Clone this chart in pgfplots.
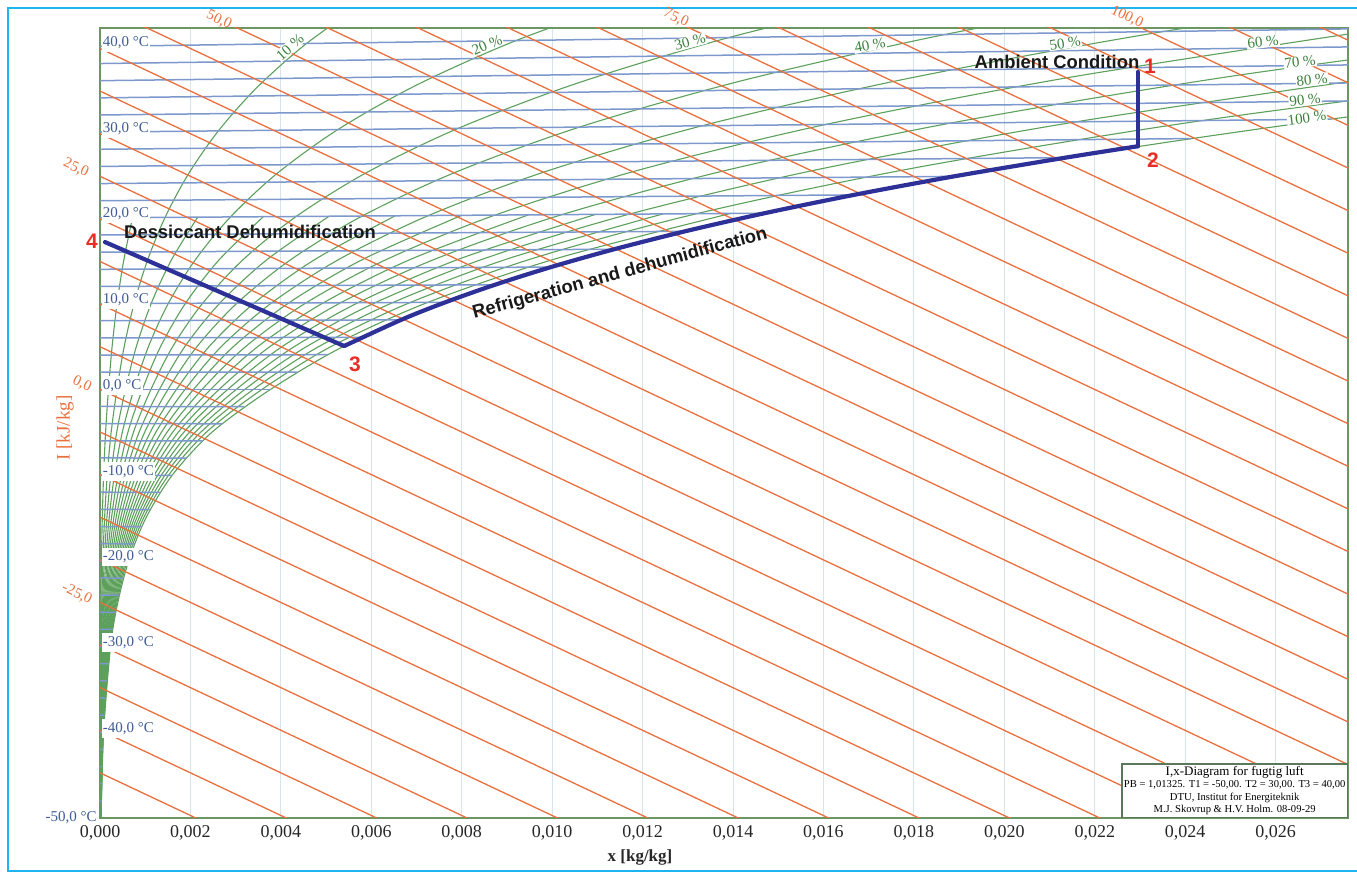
\documentclass[border=0pt]{standalone}
\usepackage{fontspec}
\setmainfont{Liberation Serif}
\setsansfont{Liberation Sans}
\usepackage{pgfplots}
\pgfplotsset{compat=1.18}

\definecolor{enthC}{RGB}{233,112,62}
\definecolor{isoTC}{RGB}{125,152,205}
\definecolor{isoTL}{RGB}{62,92,150}
\definecolor{rhC}{RGB}{92,160,92}
\definecolor{rhL}{RGB}{60,128,60}
\definecolor{gridC}{RGB}{214,228,238}
\definecolor{axisC}{RGB}{110,150,100}
\definecolor{pathC}{RGB}{45,48,150}
\definecolor{ptC}{RGB}{232,45,38}
\definecolor{frameC}{RGB}{30,180,240}
\definecolor{boxC}{RGB}{90,120,90}

\pgfplotsset{
  isoT/.style={no marks, draw=isoTC, line width=0.75pt},
  isoH/.style={no marks, draw=enthC, line width=0.65pt},
  rh/.style={no marks, draw=rhC, line width=0.55pt, smooth},
}
\tikzset{
  tlab/.style={anchor=base west, fill=white, inner xsep=0.6pt, inner ysep=1.6pt, text=isoTL, font=\fontsize{7.5}{8}\selectfont},
  rhlab/.style={fill=white, inner sep=0.4pt, text=rhL, font=\fontsize{7.5}{8}\selectfont},
}

\begin{document}
\begin{tikzpicture}
\path[use as bounding box] (0,0) rectangle (678.5pt,438.5pt);
\begin{axis}[
  at={(50pt,29.5pt)}, anchor=south west,
  scale only axis, width=624pt, height=395pt,
  xmin=0, xmax=0.0276, ymin=-50.3, ymax=42.4,
  axis line style={draw=axisC, line width=0.6pt},
  xtick={0,0.002,0.004,0.006,0.008,0.010,0.012,0.014,0.016,0.018,0.020,0.022,0.024,0.026},
  xticklabels={{0,000},{0,002},{0,004},{0,006},{0,008},{0,010},{0,012},{0,014},{0,016},{0,018},{0,020},{0,022},{0,024},{0,026}},
  scaled x ticks=false,
  xticklabel style={font=\fontsize{9}{10}\selectfont, text=black!85},
  ytick=\empty,
  major tick length=0pt,
  xmajorgrids, grid style={draw=gridC, line width=0.5pt},
  clip mode=individual,
]

% relative humidity curves: 10 % steps over the whole chart,
% intermediate 5 % steps up to 20 degC
\addplot[rh] coordinates {(1.21e-6,-50.30) (3.94e-6,-40.24) (1.167e-5,-30.18) (1.943e-5,-25.15) (3.169e-5,-20.12) (5.074e-5,-15.09) (7.978e-5,-10.06) (1.2335e-4,-5.03) (1.8766e-4,0) (2.6792e-4,5.033) (3.7720e-4,10.067) (5.2398e-4,15.105) (7.1881e-4,20.147)};
\addplot[rh] coordinates {(2.42e-6,-50.30) (7.88e-6,-40.24) (2.333e-5,-30.18) (3.885e-5,-25.15) (6.339e-5,-20.12) (1.0147e-4,-15.09) (1.5958e-4,-10.06) (2.4675e-4,-5.03) (3.7542e-4,0) (5.3606e-4,5.035) (7.5486e-4,10.074) (1.04884e-3,15.119) (1.43928e-3,20.174) (1.95188e-3,25.241) (2.61788e-3,30.326) (3.47401e-3,35.436) (4.56675e-3,40.580) (5.94636e-3,45.768)};
\addplot[rh] coordinates {(3.63e-6,-50.30) (1.182e-5,-40.24) (3.500e-5,-30.18) (5.828e-5,-25.15) (9.508e-5,-20.12) (1.5221e-4,-15.09) (2.3941e-4,-10.06) (3.7020e-4,-5.03) (5.6331e-4,0) (8.0444e-4,5.038) (1.13298e-3,10.081) (1.57459e-3,15.134) (2.16142e-3,20.200)};
\addplot[rh] coordinates {(4.84e-6,-50.30) (1.576e-5,-40.24) (4.667e-5,-30.18) (7.770e-5,-25.15) (1.2678e-4,-20.12) (2.0294e-4,-15.09) (3.1925e-4,-10.06) (4.9369e-4,-5.03) (7.5131e-4,0) (1.07305e-3,5.040) (1.51156e-3,10.088) (2.10123e-3,15.149) (2.88523e-3,20.227) (3.91604e-3,25.332) (5.25789e-3,30.473) (6.98705e-3,35.665) (9.20104e-3,40.925) (1.200750e-2,46.275)};
\addplot[rh] coordinates {(6.05e-6,-50.30) (1.971e-5,-40.24) (5.833e-5,-30.18) (9.713e-5,-25.15) (1.5847e-4,-20.12) (2.5368e-4,-15.09) (3.9912e-4,-10.06) (6.1724e-4,-5.03) (9.3941e-4,0) (1.34190e-3,5.043) (1.89060e-3,10.095) (2.62875e-3,15.163) (3.61073e-3,20.254)};
\addplot[rh] coordinates {(7.26e-6,-50.30) (2.365e-5,-40.24) (7.000e-5,-30.18) (1.1655e-4,-25.15) (1.9016e-4,-20.12) (3.0442e-4,-15.09) (4.7900e-4,-10.06) (7.4084e-4,-5.03) (1.12763e-3,0) (1.61097e-3,5.045) (2.27010e-3,10.102) (3.15717e-3,15.178) (4.33791e-3,20.281) (5.89261e-3,25.424) (7.92031e-3,30.622) (1.053978e-2,35.896) (1.390442e-2,41.274) (1.818682e-2,46.792)};
\addplot[rh] coordinates {(8.47e-6,-50.30) (2.759e-5,-40.24) (8.167e-5,-30.18) (1.3598e-4,-25.15) (2.2186e-4,-20.12) (3.5515e-4,-15.09) (5.5890e-4,-10.06) (8.6448e-4,-5.03) (1.31597e-3,0) (1.88028e-3,5.048) (2.65007e-3,10.109) (3.68649e-3,15.193) (5.06678e-3,20.308)};
\addplot[rh] coordinates {(9.67e-6,-50.30) (3.153e-5,-40.24) (9.333e-5,-30.18) (1.5540e-4,-25.15) (2.5355e-4,-20.12) (4.0589e-4,-15.09) (6.3884e-4,-10.06) (9.8818e-4,-5.03) (1.50441e-3,0) (2.14982e-3,5.050) (3.03049e-3,10.116) (4.21670e-3,15.208) (5.79735e-3,20.336) (7.88170e-3,25.516) (1.060543e-2,30.772) (1.413286e-2,36.130) (1.867840e-2,41.630) (2.448773e-2,47.320)};
\addplot[rh] coordinates {(1.088e-5,-50.30) (3.547e-5,-40.24) (1.0500e-4,-30.18) (1.7483e-4,-25.15) (2.8525e-4,-20.12) (4.5662e-4,-15.09) (7.1878e-4,-10.06) (1.11191e-3,-5.03) (1.69297e-3,0) (2.41959e-3,5.053) (3.41138e-3,10.123) (4.74781e-3,15.222) (6.52963e-3,20.363)};
\addplot[rh] coordinates {(1.209e-5,-50.30) (3.941e-5,-40.24) (1.1667e-4,-30.18) (1.9426e-4,-25.15) (3.1694e-4,-20.12) (5.0736e-4,-15.09) (7.9874e-4,-10.06) (1.23570e-3,-5.03) (1.88166e-3,0) (2.68959e-3,5.055) (3.79274e-3,10.131) (5.27982e-3,15.237) (7.26361e-3,20.390) (9.88343e-3,25.610) (1.331354e-2,30.923) (1.776699e-2,36.367) (2.352461e-2,41.990) (3.091390e-2,47.857)};
\addplot[rh] coordinates {(1.330e-5,-50.30) (4.335e-5,-40.24) (1.2833e-4,-30.18) (2.1368e-4,-25.15) (3.4863e-4,-20.12) (5.5810e-4,-15.09) (8.7873e-4,-10.06) (1.35954e-3,-5.03) (2.07044e-3,0) (2.95983e-3,5.058) (4.17456e-3,10.138) (5.81274e-3,15.252) (7.99931e-3,20.418)};
\addplot[rh] coordinates {(1.451e-5,-50.30) (4.729e-5,-40.24) (1.4000e-4,-30.18) (2.3311e-4,-25.15) (3.8033e-4,-20.12) (6.0883e-4,-15.09) (9.5874e-4,-10.06) (1.48343e-3,-5.03) (2.25934e-3,0) (3.23031e-3,5.060) (4.55684e-3,10.145) (6.34656e-3,15.267) (8.73674e-3,20.445) (1.189794e-2,25.703) (1.604492e-2,31.075) (2.144288e-2,36.606) (2.844468e-2,42.356)};
\addplot[rh] coordinates {(1.572e-5,-50.30) (5.123e-5,-40.24) (1.5166e-4,-30.18) (2.5253e-4,-25.15) (4.1202e-4,-20.12) (6.5957e-4,-15.09) (1.03877e-3,-10.06) (1.60737e-3,-5.03) (2.44835e-3,0) (3.50102e-3,5.063) (4.93959e-3,10.152) (6.88129e-3,15.282) (9.47590e-3,20.473)};
\addplot[rh] coordinates {(1.693e-5,-50.30) (5.517e-5,-40.24) (1.6333e-4,-30.18) (2.7196e-4,-25.15) (4.4372e-4,-20.12) (7.1030e-4,-15.09) (1.11882e-3,-10.06) (1.73136e-3,-5.03) (2.63748e-3,0) (3.77196e-3,5.065) (5.32281e-3,10.159) (7.41693e-3,15.297) (1.021678e-2,20.500) (1.392532e-2,25.798) (1.879992e-2,31.229) (2.516127e-2,36.848) (3.344033e-2,42.728)};
\addplot[rh] coordinates {(1.814e-5,-50.30) (5.912e-5,-40.24) (1.7500e-4,-30.18) (2.9138e-4,-25.15) (4.7541e-4,-20.12) (7.6104e-4,-15.09) (1.19888e-3,-10.06) (1.85539e-3,-5.03) (2.82671e-3,0) (4.04313e-3,5.068) (5.70650e-3,10.166) (7.95348e-3,15.312) (1.095942e-2,20.528)};
\addplot[rh] coordinates {(1.935e-5,-50.30) (6.306e-5,-40.24) (1.8666e-4,-30.18) (3.1081e-4,-25.15) (5.0710e-4,-20.12) (8.1178e-4,-15.09) (1.27897e-3,-10.06) (1.97947e-3,-5.03) (3.01609e-3,0) (4.31455e-3,5.070) (6.09066e-3,10.173) (8.49095e-3,15.327) (1.170379e-2,20.555) (1.596571e-2,25.892) (2.157877e-2,31.384) (2.892288e-2,37.093)};
\addplot[rh] coordinates {(2.056e-5,-50.30) (6.700e-5,-40.24) (1.9833e-4,-30.18) (3.3023e-4,-25.15) (5.3880e-4,-20.12) (8.6251e-4,-15.09) (1.35908e-3,-10.06) (2.10361e-3,-5.03) (3.20555e-3,0) (4.58619e-3,5.073) (6.47529e-3,10.180) (9.02935e-3,15.342) (1.244992e-2,20.583)};
\addplot[rh] coordinates {(2.177e-5,-50.30) (7.094e-5,-40.24) (2.1000e-4,-30.18) (3.4966e-4,-25.15) (5.7049e-4,-20.12) (9.1325e-4,-15.09) (1.43922e-3,-10.06) (2.22779e-3,-5.03) (3.39513e-3,0) (4.85808e-3,5.075) (6.86039e-3,10.188) (9.56866e-3,15.357) (1.319780e-2,20.611) (1.801924e-2,25.988) (2.438186e-2,31.541) (3.272849e-2,37.341)};
\addplot[rh] coordinates {(2.298e-5,-50.30) (7.488e-5,-40.24) (2.2166e-4,-30.18) (3.6908e-4,-25.15) (6.0219e-4,-20.12) (9.6398e-4,-15.09) (1.51937e-3,-10.06) (2.35203e-3,-5.03) (3.58481e-3,0) (5.13019e-3,5.078) (7.24596e-3,10.195) (1.010888e-2,15.372) (1.394746e-2,20.639)};
\addplot[rh] coordinates {(2.419e-5,-50.30) (7.883e-5,-40.24) (2.334e-4,-30.18) (3.8875e-4,-25.15) (6.3453e-4,-20.12) (1.01638e-3,-15.09) (1.59953e-3,-10.06) (2.47631e-3,-5.03) (3.77461e-3,0) (5.40255e-3,5.080) (7.63201e-3,10.202) (1.065004e-2,15.387) (1.469888e-2,20.667) (2.008602e-2,26.084) (2.720949e-2,31.698) (3.657886e-2,37.591)};

% isotherms every 2 degC, ending on the saturation curve
\addplot[isoT] coordinates {(0,-48.288) (0.0000308,-48.291)};
\addplot[isoT] coordinates {(0,-46.276) (0.0000392,-46.280)};
\addplot[isoT] coordinates {(0,-44.264) (0.0000496,-44.268)};
\addplot[isoT] coordinates {(0,-42.252) (0.0000626,-42.257)};
\addplot[isoT] coordinates {(0,-40.240) (0.0000788,-40.246)};
\addplot[isoT] coordinates {(0,-38.228) (0.0000984,-38.235)};
\addplot[isoT] coordinates {(0,-36.216) (0.0001227,-36.224)};
\addplot[isoT] coordinates {(0,-34.204) (0.0001525,-34.214)};
\addplot[isoT] coordinates {(0,-32.192) (0.0001886,-32.203)};
\addplot[isoT] coordinates {(0,-30.180) (0.0002334,-30.193)};
\addplot[isoT] coordinates {(0,-28.168) (0.0002862,-28.183)};
\addplot[isoT] coordinates {(0,-26.156) (0.0003511,-26.173)};
\addplot[isoT] coordinates {(0,-24.144) (0.0004288,-24.163)};
\addplot[isoT] coordinates {(0,-22.132) (0.0005216,-22.153)};
\addplot[isoT] coordinates {(0,-20.120) (0.0006345,-20.144)};
\addplot[isoT] coordinates {(0,-18.108) (0.0007658,-18.134)};
\addplot[isoT] coordinates {(0,-16.096) (0.0009252,-16.124)};
\addplot[isoT] coordinates {(0,-14.084) (0.0011131,-14.113)};
\addplot[isoT] coordinates {(0,-12.072) (0.0013343,-12.102)};
\addplot[isoT] coordinates {(0,-10.060) (0.0015996,-10.090)};
\addplot[isoT] coordinates {(0,-8.048) (0.0019051,-8.076)};
\addplot[isoT] coordinates {(0,-6.036) (0.0022691,-6.061)};
\addplot[isoT] coordinates {(0,-4.024) (0.0026942,-4.044)};
\addplot[isoT] coordinates {(0,-2.012) (0.0031888,-2.024)};
\addplot[isoT] coordinates {(0,0) (0.0037748,0)};
\addplot[isoT] coordinates {(0,2.012) (0.0043643,2.028)};
\addplot[isoT] coordinates {(0,4.024) (0.0050342,4.061)};
\addplot[isoT] coordinates {(0,6.036) (0.0057931,6.101)};
\addplot[isoT] coordinates {(0,8.048) (0.0066573,8.147)};
\addplot[isoT] coordinates {(0,10.060) (0.0076320,10.202)};
\addplot[isoT] coordinates {(0,12.072) (0.0087322,12.267)};
\addplot[isoT] coordinates {(0,14.084) (0.0099731,14.344)};
\addplot[isoT] coordinates {(0,16.096) (0.0113691,16.434)};
\addplot[isoT] coordinates {(0,18.108) (0.0129381,18.541)};
\addplot[isoT] coordinates {(0,20.120) (0.0146989,20.667)};
\addplot[isoT] coordinates {(0,22.132) (0.0166732,22.814)};
\addplot[isoT] coordinates {(0,24.144) (0.0188841,24.987)};
\addplot[isoT] coordinates {(0,26.156) (0.0213578,27.189)};
\addplot[isoT] coordinates {(0,28.168) (0.0241220,29.424)};
\addplot[isoT] coordinates {(0,30.180) (0.0272097,31.698)};
\addplot[isoT] coordinates {(0,32.192) (0.028,33.859)};
\addplot[isoT] coordinates {(0,34.204) (0.028,35.975)};
\addplot[isoT] coordinates {(0,36.216) (0.028,38.091)};
\addplot[isoT] coordinates {(0,38.228) (0.028,40.207)};
\addplot[isoT] coordinates {(0,40.240) (0.028,42.323)};

% isenthalps every 5 kJ/kg
\addplot[isoH] coordinates {(0,-45) (0.028,-115.028)};
\addplot[isoH] coordinates {(0,-40) (0.028,-110.028)};
\addplot[isoH] coordinates {(0,-35) (0.028,-105.028)};
\addplot[isoH] coordinates {(0,-30) (0.028,-100.028)};
\addplot[isoH] coordinates {(0,-25) (0.028,-95.028)};
\addplot[isoH] coordinates {(0,-20) (0.028,-90.028)};
\addplot[isoH] coordinates {(0,-15) (0.028,-85.028)};
\addplot[isoH] coordinates {(0,-10) (0.028,-80.028)};
\addplot[isoH] coordinates {(0,-5) (0.028,-75.028)};
\addplot[isoH] coordinates {(0,0) (0.028,-70.028)};
\addplot[isoH] coordinates {(0,5) (0.028,-65.028)};
\addplot[isoH] coordinates {(0,10) (0.028,-60.028)};
\addplot[isoH] coordinates {(0,15) (0.028,-55.028)};
\addplot[isoH] coordinates {(0,20) (0.028,-50.028)};
\addplot[isoH] coordinates {(0,25) (0.028,-45.028)};
\addplot[isoH] coordinates {(0,30) (0.028,-40.028)};
\addplot[isoH] coordinates {(0,35) (0.028,-35.028)};
\addplot[isoH] coordinates {(0,40) (0.028,-30.028)};
\addplot[isoH] coordinates {(0,45) (0.028,-25.028)};
\addplot[isoH] coordinates {(0,50) (0.028,-20.028)};
\addplot[isoH] coordinates {(0,55) (0.028,-15.028)};
\addplot[isoH] coordinates {(0,60) (0.028,-10.028)};
\addplot[isoH] coordinates {(0,65) (0.028,-5.028)};
\addplot[isoH] coordinates {(0,70) (0.028,-0.028)};
\addplot[isoH] coordinates {(0,75) (0.028,4.972)};
\addplot[isoH] coordinates {(0,80) (0.028,9.972)};
\addplot[isoH] coordinates {(0,85) (0.028,14.972)};
\addplot[isoH] coordinates {(0,90) (0.028,19.972)};
\addplot[isoH] coordinates {(0,95) (0.028,24.972)};
\addplot[isoH] coordinates {(0,100) (0.028,29.972)};
\addplot[isoH] coordinates {(0,105) (0.028,34.972)};
\addplot[isoH] coordinates {(0,110) (0.028,39.972)};

% isotherm labels
\node[tlab] at (axis cs:0.00003,40.24) {40,0 °C};
\node[tlab] at (axis cs:0.00003,30.18) {30,0 °C};
\node[tlab] at (axis cs:0.00003,20.12) {20,0 °C};
\node[tlab] at (axis cs:0.00003,10.06) {10,0 °C};
\node[tlab] at (axis cs:0.00003,0) {0,0 °C};
\node[tlab] at (axis cs:0.00003,-10.06) {-10,0 °C};
\node[tlab] at (axis cs:0.00003,-20.12) {-20,0 °C};
\node[tlab] at (axis cs:0.00003,-30.18) {-30,0 °C};
\node[tlab] at (axis cs:0.00003,-40.24) {-40,0 °C};

% humidity labels
\node[rhlab, rotate=42] at (axis cs:0.004202,40.17) {10 \%};
\node[rhlab, rotate=23] at (axis cs:0.008559,40.41) {20 \%};
\node[rhlab, rotate=15] at (axis cs:0.013048,40.76) {30 \%};
\node[rhlab, rotate=11] at (axis cs:0.017029,40.41) {40 \%};
\node[rhlab, rotate=9] at (axis cs:0.021342,40.64) {50 \%};
\node[rhlab, rotate=7] at (axis cs:0.025720,40.76) {60 \%};
\node[rhlab, rotate=7] at (axis cs:0.026539,38.41) {70 \%};
\node[rhlab, rotate=7] at (axis cs:0.026804,36.30) {80 \%};
\node[rhlab, rotate=7] at (axis cs:0.026649,33.95) {90 \%};
\node[rhlab, rotate=7] at (axis cs:0.026693,31.84) {100 \%};

% process: 1 -> 2 (cooling), 2 -> 3 (along saturation), 3 -> 4 (desiccant)
\addplot[no marks, draw=pathC, line width=2.1pt, line cap=round] coordinates {(0.02295,37.24) (0.02295,28.52)};
\addplot[no marks, draw=pathC, line width=2.1pt, line cap=round, smooth] coordinates {(0.02295,28.52) (0.0213578,27.189) (0.0188841,24.987) (0.0166732,22.814) (0.0146989,20.667) (0.0129381,18.541) (0.0113691,16.434) (0.0099731,14.344) (0.0087322,12.267) (0.007632,10.202) (0.0066573,8.147) (0.00540,5.08)};
\addplot[no marks, draw=pathC, line width=2.1pt, line cap=round] coordinates {(0.00540,5.08) (0.00011,17.28)};
\end{axis}

% outer frame (open on the right where the sheet is cut)
\draw[frameC, line width=0.8pt] (678.5pt,3pt) -- (4pt,3pt) -- (4pt,434.5pt) -- (678.5pt,434.5pt);

% enthalpy scale labels
\begin{scope}[every node/.style={text=enthC, font=\fontsize{7.5}{8}\selectfont, rotate=-25.4, inner sep=0.5pt}]
\node at (109.5pt,428.5pt) {50,0};
\node at (338pt,429.5pt) {75,0};
\node at (563.5pt,430pt) {100,0};
\node at (38pt,354.5pt) {25,0};
\node at (41pt,246.5pt) {0,0};
\node at (38.5pt,141.5pt) {-25,0};
\end{scope}
\node[text=isoTL, font=\fontsize{7.5}{8}\selectfont, anchor=base east, inner sep=0.5pt] at (49pt,27.5pt) {-50,0 °C};

% axis titles
\node[text=enthC, rotate=90, font=\fontsize{9.5}{10}\selectfont] at (32.5pt,224.5pt) {I [kJ/kg]};
\node[font=\fontsize{8.5}{10}\selectfont\bfseries, text=black!85] at (320pt,10pt) {x [kg/kg]};

% process annotations
\begin{scope}[every node/.style={font=\fontsize{9.2}{10}\selectfont\sffamily\bfseries, text=black!90, inner sep=0.5pt}]
\node at (528.5pt,407.5pt) {Ambient Condition};
\node at (125pt,322.5pt) {Dessiccant Dehumidification};
\node[rotate=15.3] at (310pt,301.5pt) {Refrigeration and dehumidification};
\end{scope}
\begin{scope}[every node/.style={font=\fontsize{10.5}{11}\selectfont\sffamily\bfseries, text=ptC, inner sep=0.5pt}]
\node at (575pt,405.5pt) {1};
\node at (576.5pt,358.5pt) {2};
\node at (177.5pt,256.5pt) {3};
\node at (46pt,318pt) {4};
\end{scope}

% chart information box
\node[draw=boxC, fill=white, line width=0.6pt, anchor=south east, align=center,
      inner xsep=1pt, inner ysep=1.2pt, font=\fontsize{5.3}{6.2}\selectfont]
  at (674pt,29.5pt)
  {{\fontsize{6.5}{7.5}\selectfont I,x-Diagram for fugtig luft}\\
   PB = 1,01325. T1 = -50,00. T2 = 30,00. T3 = 40,00\\
   DTU, Institut for Energiteknik\\
   M.J. Skovrup \& H.V. Holm. 08-09-29};
\end{tikzpicture}
\end{document}
